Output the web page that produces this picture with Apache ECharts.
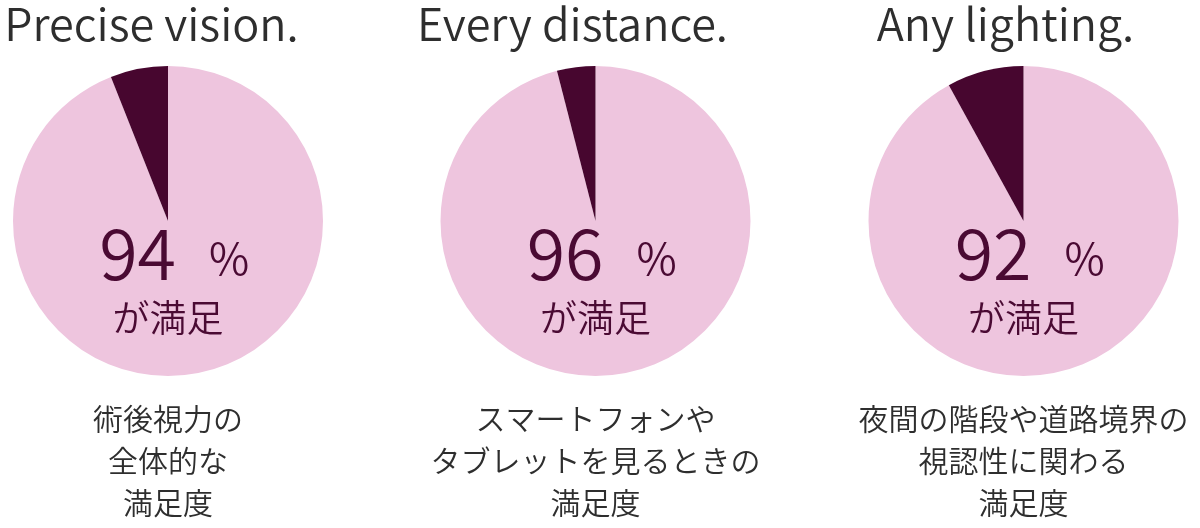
<!DOCTYPE html>
<html>
<head>
<meta charset="utf-8">
<script src="https://cdn.jsdelivr.net/npm/echarts@6/dist/echarts.min.js"></script>
<style>
html,body{margin:0;padding:0;background:#fff;}
#main{width:1200px;height:528px;}
</style>
</head>
<body>
<div id="main"></div>
<script>
// ---- data ----
var titles = ['Precise vision.', 'Every distance.', 'Any lighting.'];
var satisfied = [94, 96, 92];
var notSatisfied = [6, 4, 8];
var centerLabel = 'が満足';
var captions = [
  ['術後視力の', '全体的な', '満足度'],
  ['スマートフォンや', 'タブレットを見るときの', '満足度'],
  ['夜間の階段や道路境界の', '視認性に関わる', '満足度']
];

// ---- layout ----
var centersX = [168, 595.5, 1023.5];
var titleX = [151.5, 572.5, 1005.5];
var centerY = 221;
var radius = 155;
var PINK = '#EEC5DE';
var DARK = '#47062F';
var NUMCOL = '#4A0A33';
var TEXTCOL = '#2e2e2e';
var FONT = '"Noto Sans CJK JP", "Noto Sans", sans-serif';

var chart = echarts.init(document.getElementById('main'));

var series = satisfied.map(function (v, i) {
  return {
    type: 'pie',
    center: [centersX[i], centerY],
    radius: [0, radius],
    startAngle: 90,
    clockwise: true,
    silent: true,
    animation: false,
    label: { show: false },
    labelLine: { show: false },
    emphasis: { disabled: true },
    itemStyle: { borderWidth: 0 },
    data: [
      { value: v, name: '満足', itemStyle: { color: PINK } },
      { value: notSatisfied[i], name: 'その他', itemStyle: { color: DARK } }
    ]
  };
});

var graphics = [];
function txt(x, y, text, font, fill, align) {
  graphics.push({
    type: 'text', x: x, y: y, z: 100, zlevel: 1, silent: true,
    style: { text: text, font: font, fill: fill, textAlign: align, textVerticalAlign: 'middle' }
  });
}
titles.forEach(function (t, i) {
  txt(titleX[i], 24, t, '350 45px ' + FONT, TEXTCOL, 'center');
  txt(centersX[i] + 8, 253, String(satisfied[i]), '350 70px ' + FONT, NUMCOL, 'right');
  txt(centersX[i] + 41, 258, '%', '350 44px ' + FONT, NUMCOL, 'left');
  txt(centersX[i], 318, centerLabel, '350 37px ' + FONT, NUMCOL, 'center');
  captions[i].forEach(function (line, j) {
    txt(centersX[i], 419 + j * 42, line, '350 30px ' + FONT, TEXTCOL, 'center');
  });
});

chart.setOption({
  backgroundColor: '#ffffff',
  animation: false,
  series: series,
  graphic: { elements: graphics }
});
</script>
</body>
</html>
